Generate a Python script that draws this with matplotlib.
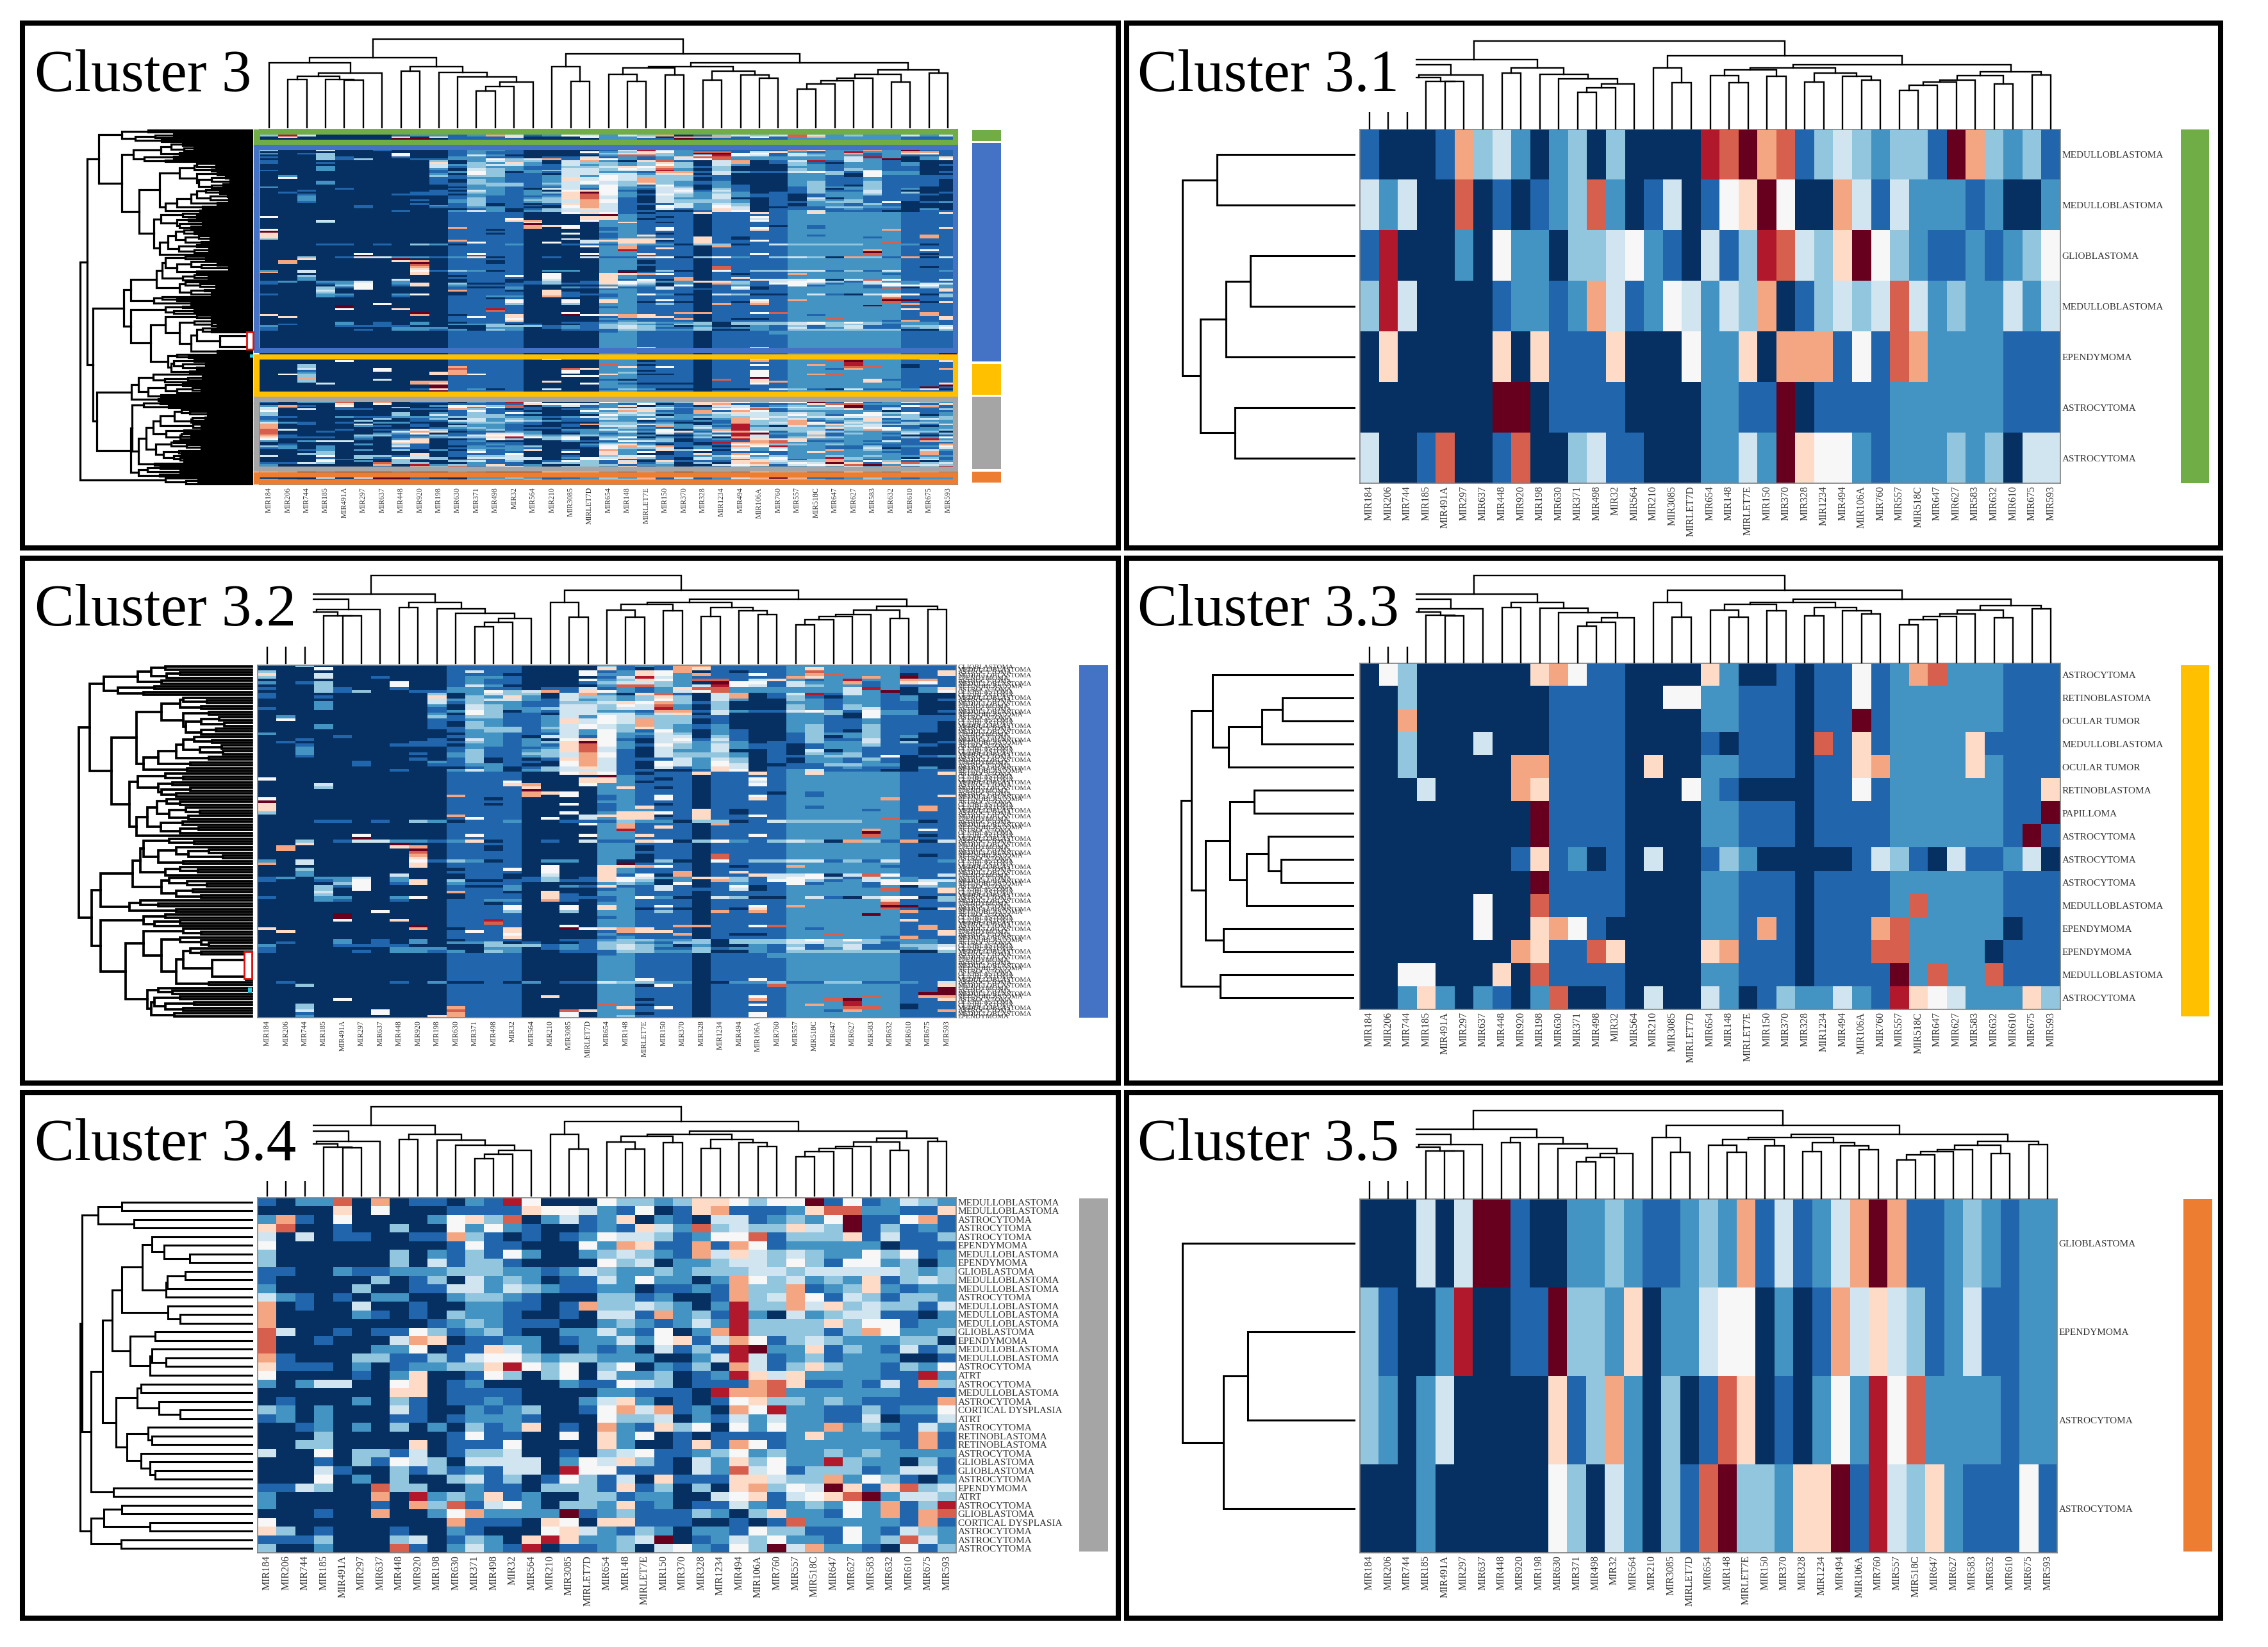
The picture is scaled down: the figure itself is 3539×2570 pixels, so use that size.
#!/usr/bin/env python
"""Six clustered heatmaps (cluster 3 and its five sub-clusters)."""
import numpy as np
import matplotlib
matplotlib.use("Agg")
import matplotlib.pyplot as plt
from matplotlib.colors import ListedColormap
from matplotlib.patches import Rectangle

W, H = 3539, 2570
SERIF = "Liberation Serif"

# one letter per cell, low to high
LEVELS = "0123456789A"
COLORS = ["#053061", "#2166ac", "#4393c3", "#92c5de", "#d1e5f0", "#f7f7f7",
          "#fddbc7", "#f4a582", "#d6604d", "#b2182b", "#67001f"]
GREEN, BLUE, YELLOW, GRAY, ORANGE = "#70ad47", "#4472c4", "#ffc000", "#a5a5a5", "#ed7d31"

COL_NAMES = ["MIR184", "MIR206", "MIR744", "MIR185", "MIR491A", "MIR297", "MIR637", "MIR448",
             "MIR920", "MIR198", "MIR630", "MIR371", "MIR498", "MIR32", "MIR564", "MIR210",
             "MIR3085", "MIRLET7D", "MIR654", "MIR148", "MIRLET7E", "MIR150", "MIR370", "MIR328",
             "MIR1234", "MIR494", "MIR106A", "MIR760", "MIR557", "MIR518C", "MIR647", "MIR627",
             "MIR583", "MIR632", "MIR610", "MIR675", "MIR593"]

# merge height between neighbouring leaves
COL_GAPS = [184, 137, 147, 137, 136, 155, 199, 160, 174, 157, 144, 105, 117, 129, 252, 174, 132, 210,
            152, 132, 169, 150, 174, 135, 160, 150, 140, 184, 110, 125, 134, 140, 152, 129, 164, 155]

ROWS31 = ["10001 73420 23030 00098 A7813 43233 1A732 31",
          "42400 80101 23820 14015 6A500 74142 22120 02",
          "19000 20522 03345 21041 39843 6A532 11212 35",
          "39400 00122 12741 25424 37013 43484 23224 24",
          "06000 00606 11160 00522 60777 151 87 22221 11",
          "00000 00AA0 11110 00022 11A01 11122 22221 11",
          "40018 00180 03411 00022 42A65 52122 23230 44"]
NAMES31 = ["MEDULLOBLASTOMA", "MEDULLOBLASTOMA", "GLIOBLASTOMA", "MEDULLOBLASTOMA", "EPENDYMOMA",
           "ASTROCYTOMA", "ASTROCYTOMA"]
GAPS31 = [192, 240, 145, 179, 215, 167]

# columns grouped 10 4 4 2 3 1 4 6 3, those are the bands seen in the big panel
BASE32 = "0000000000 1111 0000 22 111 0 1111 222222 111"
ROWS32 = [
    "0030000000 1111 0000 31 217 7 1111 222222 111",
    "0005000000 1111 0000 61 017 6 1111 262222 111",
    "3000000000 1411 0005 12 657 0 1011 282222 116",
    "6004000000 1110 0005 22 652 7 1151 278222 016",
    "3004001000 1221 0000 14 942 1 1111 762272 A11",
    "0000000000 1211 0005 23 652 8 8146 212922 771",
    "2013000500 1211 0001 34 432 0 A551 422712 651",
    "0003000500 1420 0000 28 832 4 9541 432212 111",
    "1003100100 2211 0114 12 126 8 8222 222492 026",
    "0003130011 2253 4716 52 124 5 8222 22242A 025",
    "1000000003 0243 3047 20 681 0 4701 491421 000",
    "1001000006 0326 2043 32 363 0 4701 310221 200",
    "0000000004 2344 2142 32 353 0 4200 321221 201",
    "0002000004 1322 1133 46 573 1 3000 221221 100",
    "0002000002 0432 1144 35 482 0 3000 321321 100",
    "1002000001 0432 2344 34 492 0 3000 321341 100",
    "0000000001 2530 2144 22 177 1 4211 453152 201",
    "0000000002 0531 1044 44 246 0 4000 223052 200",
    "0200000003 1331 1242 54 333 1 1000 221051 111",
    "0500000001 1221 1264 54 733 0 1000 221121 111",
    "0000000001 0321 1264 54 733 0 1000 221121 110",
    "0002000001 0321 1245 43 732 1 2000 231131 110",
    "0002000001 1333 1345 43 632 1 2000 231131 110",
    "0000000000 1233 1242 53 152 0 2100 231031 110",
    "2000000000 0221 1142 52 243 0 2100 132231 100",
    "0000100000 1221 0441 52 144 0 3100 130231 200",
    "0010000001 0421 2056 51 045 1 4100 131141 000",
    "0100000011 1321 236A 52 044 2 3201 132241 301",
    "0010000111 0221 2168 52 153 2 4211 012231 110",
    "0020000000 1211 1268 42 043 2 4211 012211 100",
    "0020000000 1311 2368 41 042 2 4001 040211 100",
    "0020000010 2311 3347 51 043 3 3201 032311 100",
    "0010000000 2311 2347 51 043 3 3201 123315 012",
    "0000000010 1301 0167 41 114 2 4301 022131 000",
    "0000010002 1301 1057 41 054 2 5301 022121 000",
    "0000010001 1221 0057 41 054 2 5400 113322 000",
    "0000000000 0120 1346 41 041 2 6401 111211 020",
    "0000000100 2420 2344 41 100 1 6501 241110 011",
    "0000000000 1111 0056 51 011 6 1161 262222 116",
    "0000000000 1111 0000 A2 111 0 1111 222222 111",
    "5000000000 1111 0006 62 101 0 1151 222222 111",
    "0000000000 1115 0006 62 011 0 1141 222222 111",
    "0004000000 1116 7005 22 111 0 1151 222222 111",
    "0003000000 1111 6000 26 101 0 1111 222222 111",
    "0000000000 1111 A000 22 111 0 1111 222222 111",
    "0000000000 1111 7650 22 111 0 1110 212222 111",
    "0000000000 7111 7050 12 151 0 1151 212222 116",
    "5000000000 1101 0000 12 151 0 1161 222227 111",
    "A000000000 1111 0000 22 111 0 1111 222222 111",
    "6000000000 1101 0050 12 101 0 1111 222222 111",
    "6000000000 1111 0000 12 611 0 1111 212222 171",
    "6000000000 1111 0000 12 211 6 1011 222212 171",
    "3000000000 1111 0050 26 651 6 1011 222222 111",
    "0000000000 7111 0004 66 601 6 1151 222222 111",
    "0000000000 1511 0504 26 611 6 1111 222228 111",
    "0001101032 0112 0011 13 220 3 3014 333322 201",
    "0000000000 1111 0005 27 111 0 7111 222222 111",
    "0000000000 1111 0000 27 161 0 1111 222222 111",
    "0000000000 1111 0000 29 111 0 1111 222272 151",
    "0000000000 1111 0000 22 111 0 1111 2222A2 111",
    "0000050000 1511 0005 22 611 0 1151 222282 101",
    "00000A0000 1111 0000 22 111 0 1111 222222 111",
    "0030144221 2601 0104 11 650 3 5213 430731 704",
    "0060000A00 1111 0000 22 111 0 1111 222222 111",
    "0700000670 1101 0000 22 011 0 1111 222222 111",
    "07000000A0 1101 0000 22 011 0 1111 222222 111",
    "0000000080 1111 0000 22 111 0 1111 222222 111",
    "0000000070 1111 0000 22 011 0 8111 222222 101",
    "0000000060 1111 0000 22 011 0 8111 222222 111",
    "2040000051 3201 0220 20 030 0 5133 441314 112",
    "7040000060 1111 0000 2A 111 0 1111 222222 111",
    "0000000060 1111 0500 66 751 0 1011 722221 111",
    "0030000000 0115 0500 62 111 0 1111 222222 111",
    "0020000000 1111 0500 62 117 0 1611 222222 111",
    "0020000400 0110 0400 61 507 0 1164 450485 114",
    "1202240200 0110 1301 65 422 6 6314 553142 211",
    "1001250260 3001 1311 65 302 0 7315 531245 244",
    "0000350160 2111 0000 23 205 0 1211 512215 552",
    "0003150000 1002 0021 61 141 0 1501 222212 032",
    "0003050000 1112 0000 12 141 1 1401 222228 116",
    "0004000000 7110 0600 22 111 0 1111 222222 116",
    "0003000000 0111 0610 22 111 0 1111 222222 111",
    "1002200250 0111 0611 12 520 0 4300 241045 503",
    "0002100100 1122 0710 12 111 0 1111 222226 113",
    "0000000000 1101 0000 22 111 0 1111 222228 111",
    "0000000000 1115 0050 62 151 0 1151 72222A A11",
    "0000000000 1115 0050 62 010 0 1061 222228 106",
    "0000005000 1113 0030 22 131 0 7171 222222 711",
    "0000A00000 1111 0000 22 111 0 1111 2222A2 111",
    "0000A00000 1111 0000 12 111 0 1111 222222 111",
    "0000500600 1191 0000 22 111 0 1111 222222 611",
    "0000000000 1181 0000 22 111 0 1111 222222 111",
    "00000000A0 1111 0050 22 117 7 1158 222222 171",
    "6000000070 0116 00A5 67 611 0 1111 212222 171",
    "0600000000 1516 0000 17 661 0 1111 222222 116",
    "0000000000 1115 0000 21 117 0 1001 228222 116",
    "0000000000 1116 0000 12 111 0 1111 222221 711",
    "0000201020 0111 0011 23 322 3 0333 453532 221",
    "0100201020 2230 1001 33 213 3 0333 443331 221",
    "2000111100 0033 3121 34 320 2 0021 313411 334",
    "1000000222 0022 0121 34 311 3 1221 412411 235",
    "1000010221 2032 0011 13 322 3 0021 333333 003",
    "0000000000 1111 0000 12 111 0 1112 222222 111",
    "0000000000 1111 0000 22 111 0 1112 222222 111",
    BASE32, BASE32, BASE32, BASE32, BASE32, BASE32, BASE32,
    "0000000000 1111 0000 22 511 0 1151 222222 111",
    "0100000102 0010 2011 43 322 0 0223 113311 214",
    "0030000000 1111 0000 22 051 0 1118 222222 116",
    "0000000000 1111 0000 22 111 0 1111 222222 11A",
    "0000000000 1111 0000 22 111 0 1111 222222 11A",
    "0000000000 1111 0000 22 111 0 1111 222222 1AA",
    "0000000000 1111 0600 22 111 0 1151 222282 177",
    "0000500000 1111 0000 22 011 0 1171 228A22 116",
    "0000000000 1111 0000 22 111 0 1111 222922 111",
    "0030000000 1111 0000 82 011 0 1151 272922 011",
    "0030000000 7111 0000 26 151 0 1111 222882 011",
    "0040005000 8111 0086 22 111 0 1111 221722 117",
    "0010005000 7111 0050 22 011 0 1151 222222 111",
    "0020000006 7111 0050 23 111 0 1151 222222 111",
]
# the labels of this panel overprint each other and cannot be read one by one
NAMES32 = ["GLIOBLASTOMA", "MEDULLOBLASTOMA", "ASTROCYTOMA", "MEDULLOBLASTOMA", "EPENDYMOMA",
           "ASTROCYTOMA", "MEDULLOBLASTOMA", "RETINOBLASTOMA", "ASTROCYTOMA", "GLIOBLASTOMA"]
GAPS32 = [120, 140, 100, 118, 158, 125, 205, 135, 186, 150, 225,
          95, 62, 100, 70, 125, 60, 95, 45, 70, 38, 92, 50, 70, 160,
          80, 55, 95, 42, 72, 40, 105, 60, 130, 85, 150, 90, 195,
          120, 95, 158, 110, 130, 85, 125, 105, 170, 118, 100, 132, 92, 72, 115, 88, 145, 96, 126, 74, 100, 160,
          240,
          115, 80, 150, 105, 60, 88, 40, 130, 95, 155, 100, 75, 120, 165, 115, 90, 62, 125, 82, 105, 70, 210,
          155, 130, 170, 105, 222,
          120, 150, 100, 135, 210, 95, 70, 150, 100, 70, 60, 125, 85, 70, 95,
          3, 3, 3, 3, 55, 3, 3, 8, 105, 60, 175, 130, 110, 145, 100, 135, 80, 120, 95, 140, 108]

ROWS33 = ["05300 00006 75110 00062 00101 15127 82221 11",
          "00300 00000 11110 05522 11101 15122 22221 11",
          "00700 00000 11110 00022 11101 1A122 22221 11",
          "00300 04000 11110 00010 11108 16122 22611 11",
          "00300 00077 11110 60022 11101 16722 22621 11",
          "00040 00076 11110 00521 00001 15122 22221 16",
          "00000 0000A 11110 00022 11101 11122 22221 1A",
          "00000 0000A 11110 00022 11101 11122 22221 A1",
          "00000 00016 12010 40013 20000 01431 04112 40",
          "00000 0000A 11110 00022 11101 11122 22221 11",
          "00000 05008 11110 00022 11101 11128 22221 11",
          "00000 05006 75100 00022 17101 11782 22220 11",
          "00000 00076 11860 00067 11101 11882 22201 11",
          "00550 00608 11110 00022 11101 111A2 82281 11",
          "00262 02102 80010 40042 01322 4219 65422 263"]
NAMES33 = ["ASTROCYTOMA", "RETINOBLASTOMA", "OCULAR TUMOR", "MEDULLOBLASTOMA", "OCULAR TUMOR",
           "RETINOBLASTOMA", "PAPILLOMA", "ASTROCYTOMA", "ASTROCYTOMA", "ASTROCYTOMA",
           "MEDULLOBLASTOMA", "EPENDYMOMA", "EPENDYMOMA", "MEDULLOBLASTOMA", "ASTROCYTOMA"]
GAPS33 = [195, 98, 127, 173, 225, 137, 171, 118, 100, 148, 205, 180, 239, 185]

ROWS34 = ["10228 07011 02195 00053 32366 53 55A 15124 32",
          "00006 05000 11116 55421 50167 11126 88221 16",
          "27105 00002 5638 02412 60210 44123 25A11 57 1",
          "68001 00300 52521 00121 64283 43364 3A131 21",
          "40401 10011 73101 01254 43125 58133 36141 13",
          "50000 00000 15110 00527 61171 75122 22201 11",
          "30000 00302 13152 00234 32174 64343 22535 12",
          "30000 00304 13310 00053 40223 44353 15523 02",
          "11002 11222 33322 12432 23233 34434 44443 23",
          "10000 03013 04232 01142 52202 75342 32613 43",
          "20000 30011 44243 21122 01121 73371 23621 22",
          "42101 02200 23321 00033 12001 73475 14313 32",
          "70100 40010 02211 01733 43202 93374 63433 14",
          "70000 21010 32210 01044 17231 92042 34411 02",
          "70000 00001 23211 10023 21242 93333 63551 22",
          "84001 01153 12310 02242 15027 93333 13752 23",
          "80010 00476 01122 01224 25614 75134 32223 30",
          "80000 02250 11642 00212 04131 9A226 13214 13",
          "71000 33113 14553 23322 20024 94123 12220 01",
          "61110 20122 33695 35035 02130 74136 32213 25",
          "50000 10260 01530 35042 23012 96462 22211 92",
          "20244 00560 12000 02115 43011 17861 12141 73",
          "00000 00660 11110 00022 11109 77822 22221 11",
          "01000 20310 11210 00246 20101 56332 32111 17",
          "32020 00410 02123 00157 47120 75922 11312 25",
          "12020 00110 12221 00053 34021 42422 11401 14",
          "00120 20302 03126 01072 16350 52522 72321 42",
          "00030 00000 15110 05062 50101 11126 22211 71",
          "00330 00060 11150 00062 00161 75122 22221 71",
          "40050 33140 13340 01034 51123 52322 32322 22",
          "00010 31543 04444 02546 31042 63522 93220 31",
          "00041 00313 12144 09551 11042 84513 33124 41",
          "00050 20300 34130 15314 06111 66433 72531 02",
          "11430 08330 02110 33316 13030 67354 A6168 34",
          "20000 07092 32612 00331 22004 56145 68A24 43",
          "20000 01073 81452 03326 12011 42123 25271 39",
          "00010 07002 57222 2A123 11132 03622 15271 78",
          "50000 00000 71110 65066 11100 10182 22221 71",
          "63010 00100 21000 56421 32022 15331 15214 32",
          "11130 00340 13206 96223 4A012 43522 15238 42",
          "30020 00810 24219 01123 04521 53A47 22105 13"]
NAMES34 = ["MEDULLOBLASTOMA", "MEDULLOBLASTOMA", "ASTROCYTOMA", "ASTROCYTOMA", "ASTROCYTOMA",
           "EPENDYMOMA", "MEDULLOBLASTOMA", "EPENDYMOMA", "GLIOBLASTOMA", "MEDULLOBLASTOMA",
           "MEDULLOBLASTOMA", "ASTROCYTOMA", "MEDULLOBLASTOMA", "MEDULLOBLASTOMA", "MEDULLOBLASTOMA",
           "GLIOBLASTOMA", "EPENDYMOMA", "MEDULLOBLASTOMA", "MEDULLOBLASTOMA", "ASTROCYTOMA",
           "ATRT", "ASTROCYTOMA", "MEDULLOBLASTOMA", "ASTROCYTOMA", "CORTICAL DYSPLASIA",
           "ATRT", "ASTROCYTOMA", "RETINOBLASTOMA", "RETINOBLASTOMA", "ASTROCYTOMA",
           "GLIOBLASTOMA", "GLIOBLASTOMA", "ASTROCYTOMA", "EPENDYMOMA", "ATRT",
           "ASTROCYTOMA", "GLIOBLASTOMA", "CORTICAL DYSPLASIA", "ASTROCYTOMA", "ASTROCYTOMA",
           "ASTROCYTOMA"]
GAPS34 = [182, 215, 165, 237, 140, 123, 87, 153, 93, 118, 120, 182, 117, 100, 195, 135, 170, 140,
          120, 142, 209, 155, 160, 130, 100, 190, 145, 140, 175, 155, 142, 135, 225, 193, 240, 182,
          207, 142, 225, 183]

ROWS35 = ["00040 4AA10 02232 11232 71412 47A71 12321 22",
          "31002 90011 A3326 02245 50201 74643 12411 22",
          "32024 00000 61372 03018 60102 529 58 22221 22",
          "00020 00000 53042 03 18A 33266 A1943 62111 51"]
NAMES35 = ["GLIOBLASTOMA", "EPENDYMOMA", "ASTROCYTOMA", "ASTROCYTOMA"]
GAPS35 = [240, 149, 183]

# rows of the outlines and side bars of the big panel (it stacks the five sub-clusters)
BOX_EDGES = [(0, 8.3, GREEN), (8.3, 121, BLUE), (121.5, 144.5, YELLOW), (144.5, 185, GRAY), (185.4, 192, ORANGE)]
BAR_EDGES = [(0.4, 6.4, GREEN), (7.2, 125.4, BLUE), (126.9, 143.6, YELLOW), (144.5, 183.6, GRAY), (184.9, 191.1, ORANGE)]


def decode(rows):
    out = []
    for r in rows:
        r = r.replace(" ", "")
        if len(r) != 37:
            print("bad row length", len(r), r)
        r = (r + "0" * 37)[:37]
        out.append([LEVELS.index(c) for c in r])
    return np.array(out)


def tree_segments(gaps):
    segs = []

    def build(lo, hi):
        if lo == hi:
            return lo + 0.5, 0
        k = lo + int(np.argmax(gaps[lo:hi]))
        p1, h1 = build(lo, k)
        p2, h2 = build(k + 1, hi)
        segs.append(([p1, p1, p2, p2], [h1, gaps[k], gaps[k], h2]))
        return (p1 + p2) / 2, gaps[k]

    build(0, len(gaps))
    return segs


fig = plt.figure(figsize=(W / 100, H / 100), dpi=100)
cmap = ListedColormap(COLORS)


def px_axes(x0, y0, x1, y1):
    return fig.add_axes([x0 / W, 1 - y1 / H, (x1 - x0) / W, (y1 - y0) / H])


def px_rect(x0, y0, x1, y1, **kw):
    r = Rectangle((x0 / W, 1 - y1 / H), (x1 - x0) / W, (y1 - y0) / H, transform=fig.transFigure, **kw)
    fig.add_artist(r)


def bare(ax):
    ax.set_xticks([])
    ax.set_yticks([])
    for s in ax.spines.values():
        s.set_visible(False)


def draw_panel(title, title_xy, frame, heat, col_y, row_x, matrix, gaps, names, col_size, row_size,
               label_pad=2, bar=None, bar_color=None, mask=None, row_lw=2.2):
    px_rect(frame[0], frame[1], frame[2], frame[3], fill=False, ec="black", lw=5.8, zorder=8)

    n = matrix.shape[0]
    ax = px_axes(*heat)
    ax.imshow(matrix, cmap=cmap, vmin=-0.5, vmax=10.5, aspect="auto", interpolation="nearest",
              extent=(0, 37, n, 0))
    ax.set_xticks(np.arange(37) + 0.5)
    ax.set_xticklabels(COL_NAMES, rotation=90, fontsize=col_size, family=SERIF, color="#333333")
    ax.tick_params(axis="both", length=0)
    ax.tick_params(axis="x", pad=3)
    if names:
        ax.yaxis.tick_right()
        ax.set_yticks(np.arange(n) + 0.5)
        ax.set_yticklabels(names, fontsize=row_size, family=SERIF, color="#333333")
        ax.tick_params(axis="y", pad=label_pad)
    else:
        ax.set_yticks([])
    for s in ax.spines.values():
        s.set_color("#808080")
        s.set_linewidth(1.2)

    # column tree above
    top = px_axes(heat[0], col_y[0], heat[2], col_y[1])
    for xs, ys in tree_segments(COL_GAPS):
        top.plot(xs, ys, color="black", lw=1.7, clip_on=False, solid_joinstyle="miter")
    top.set_xlim(0, 37)
    top.set_ylim(0, max(COL_GAPS))
    top.axis("off")

    # row tree on the left
    left = px_axes(row_x[0], heat[1], row_x[1], heat[3])
    for xs, ys in tree_segments(gaps):
        left.plot(ys, xs, color="black", lw=row_lw, clip_on=False, solid_joinstyle="miter")
    left.set_xlim(max(gaps), 0)
    left.set_ylim(n, 0)
    left.axis("off")

    if bar is not None:
        bax = px_axes(*bar)
        bax.set_facecolor(bar_color)
        bare(bax)

    if mask is not None:
        px_rect(frame[0] + 5, frame[1] + 5, mask[0], mask[1], fc="white", ec="none", zorder=6)
    fig.text(title_xy[0] / W, 1 - title_xy[1] / H, title, family=SERIF, fontsize=67, va="baseline", zorder=9)
    return ax


m31, m32, m33, m34, m35 = [decode(r) for r in (ROWS31, ROWS32, ROWS33, ROWS34, ROWS35)]
if len(GAPS32) != len(ROWS32) - 1:
    print("gaps32", len(GAPS32), len(ROWS32))

# big panel: sub-clusters stacked, their trees shrunk under a few linking merges
gaps3 = ([g * 0.75 for g in GAPS31] + [212] + [g * 0.8 for g in GAPS32[:60]] + [228]
         + [g * 0.8 for g in GAPS32[61:]] + [220] + [g * 0.7 for g in GAPS33] + [215]
         + [g * 0.7 for g in GAPS34] + [238] + [g * 0.5 for g in GAPS35])
ax3 = draw_panel("Cluster 3", (54, 142), (35, 36, 1745, 855), (405, 202, 1494, 756), (61, 199), (125, 393),
                 np.vstack([m31, m32, m33, m34, m35]), gaps3, None, 8.5, 8, row_lw=2.3)
for a, b, c in BOX_EDGES:
    ax3.add_patch(Rectangle((-0.17, a + 1.39), 37.07, b - a - 2.78, fill=False, ec=c, lw=5.8, clip_on=False, zorder=5))
bar_ax = px_axes(1517, 202, 1562, 756)
for a, b, c in BAR_EDGES:
    bar_ax.axhspan(a, b, color=c, lw=0)
bar_ax.set_ylim(192, 0)
bare(bar_ax)
px_rect(385, 518, 395, 545, fc="white", ec="#e01010", lw=2, zorder=7)
px_rect(390, 553, 395, 558, fc="#20c8e0", ec="none", zorder=7)

draw_panel("Cluster 3.1", (1775, 142), (1758, 36, 3465, 855), (2122, 202, 3215, 754), (64, 201), (1845, 2113),
           m31, GAPS31, NAMES31, 11.5, 11, bar=(3403, 202, 3447, 754), bar_color=GREEN, mask=(2209, 175))

names32 = [NAMES32[i % len(NAMES32)] for i in range(len(ROWS32))]
draw_panel("Cluster 3.2", (54, 976), (35, 871, 1745, 1690), (402, 1038, 1492, 1588), (898, 1035), (123, 393),
           m32, GAPS32, names32, 8.5, 8, bar=(1684, 1038, 1729, 1588), bar_color=BLUE, mask=(488, 1009), row_lw=2.7)
px_rect(381, 1485, 393, 1527, fc="white", ec="#e01010", lw=2, zorder=7)
px_rect(387, 1541, 393, 1549, fc="#20c8e0", ec="none", zorder=7)

draw_panel("Cluster 3.3", (1775, 976), (1758, 871, 3465, 1690), (2122, 1035, 3215, 1575), (898, 1034), (1843, 2111),
           m33, GAPS33, NAMES33, 11.5, 11, bar=(3403, 1038, 3447, 1586), bar_color=YELLOW, mask=(2209, 1009))

draw_panel("Cluster 3.4", (54, 1810), (35, 1705, 1745, 2525), (402, 1869, 1492, 2423), (1727, 1866), (125, 393),
           m34, GAPS34, NAMES34, 11.5, 11, bar=(1684, 1870, 1729, 2421), bar_color=GRAY, mask=(488, 1843))

draw_panel("Cluster 3.5", (1775, 1810), (1758, 1705, 3465, 2525), (2122, 1871, 3210, 2423), (1733, 1870), (1845, 2113),
           m35, GAPS35, NAMES35, 11.5, 11, bar=(3407, 1871, 3452, 2421), bar_color=ORANGE, mask=(2209, 1843))

fig.savefig("out.png", dpi=100, facecolor="white")
